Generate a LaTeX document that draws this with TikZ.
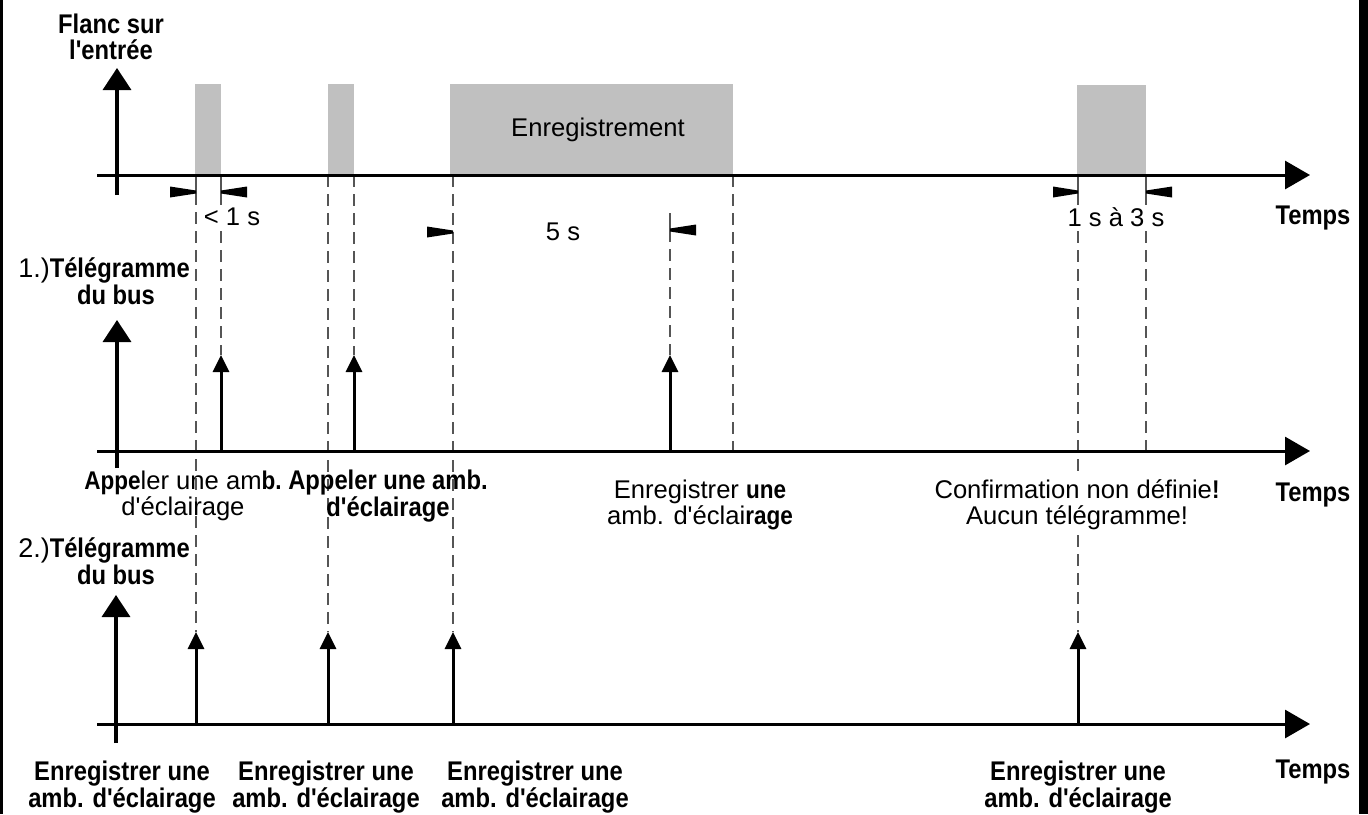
\documentclass[tikz,border=0pt]{standalone}
\usepackage{fontspec}
\setmainfont{Liberation Sans}[Ligatures=TeXOff,BoldFeatures={FakeStretch=0.88}]
\usetikzlibrary{arrows.meta}
\definecolor{pulsegray}{HTML}{C0C0C0}
\definecolor{guidegray}{HTML}{555555}
\begin{document}
\begin{tikzpicture}[x=0.5pt,y=-0.5pt,
  axisline/.style={line width=1.5pt,-{Triangle[length=12.5pt,width=14pt]}},
  vaxisline/.style={line width=1.75pt,-{Triangle[length=11pt,width=14pt]}},
  tele/.style={line width=1.5pt,-{Triangle[length=8.5pt,width=8pt]}},
  guide/.style={guidegray,line width=1pt,dash pattern=on 6pt off 3.5pt},
  guidetick/.style={guidegray,line width=1pt},
  pulsebox/.style={fill=pulsegray},
  reg/.style={font=\fontsize{12.8}{13}\selectfont,inner sep=1pt,align=center},
  bld/.style={font=\fontsize{13.5}{13.25}\selectfont\bfseries,inner sep=1pt,align=center},
  wbg/.style={fill=white},
]
\useasboundingbox (0,0) rectangle (1368,814);
\fill[white] (0,0) rectangle (1368,814);
% frame edges
\fill[black] (0,0) rectangle (3,814);
\fill[black] (1359,0) rectangle (1368,814);

% coordinates
\coordinate (a1s) at (97,175);  \coordinate (a1e) at (1310,175);
\coordinate (a2s) at (97,451);  \coordinate (a2e) at (1310,451);
\coordinate (a3s) at (97,724);  \coordinate (a3e) at (1310,724);
\coordinate (v1b) at (117,195); \coordinate (v1t) at (117,68);
\coordinate (v2b) at (117,468); \coordinate (v2t) at (117,320);
\coordinate (v3b) at (116,743); \coordinate (v3t) at (116,595);

% pulses on the input
\path[pulsebox] (195,84) rectangle (221,175);
\path[pulsebox] (328,84) rectangle (354,175);
\path[pulsebox] (450,84) rectangle (733,175);
\path[pulsebox] (1077,85) rectangle (1146,175);
\node[reg] (enr) at (598,130) {Enregistrement};

% guide lines (solid ticks + dashed)
\foreach \x/\ya/\yb/\yc in {196/175/193/632, 221/175/193/355, 1078/175/193/632, 1146/175/193/451}{
  \coordinate (ga) at (\x,\ya); \coordinate (gb) at (\x,\yb); \coordinate (gc) at (\x,\yc);
  \draw[guidetick] (ga) -- (gb);
  \draw[guide] (gb) -- (gc);
}
\foreach \x/\ya/\yb in {328/175/632, 354/175/355, 453/175/632, 733/175/451}{
  \coordinate (ga) at (\x,\ya); \coordinate (gb) at (\x,\yb);
  \draw[guide] (ga) -- (gb);
}
\coordinate (g5a) at (670,213); \coordinate (g5b) at (670,230); \coordinate (g5c) at (670,355);
\draw[guidetick] (g5a) -- (g5b);
\draw[guide] (g5b) -- (g5c);

% axes
\draw[axisline] (a1s) -- (a1e);
\draw[axisline] (a2s) -- (a2e);
\draw[axisline] (a3s) -- (a3e);
\draw[vaxisline] (v1b) -- (v1t);
\draw[vaxisline] (v2b) -- (v2t);
\draw[vaxisline] (v3b) -- (v3t);

% telegrams
\foreach \x in {221,354,670}{
  \coordinate (tb) at (\x,451); \coordinate (tt) at (\x,355);
  \draw[tele] (tb) -- (tt);
}
\foreach \x in {196,328,453,1078}{
  \coordinate (tb) at (\x,724); \coordinate (tt) at (\x,632);
  \draw[tele] (tb) -- (tt);
}

% dimension markers
\foreach \xa/\xb/\y in {170/196/192, 247/221/192, 427/453/232, 696/670/230, 1053/1078/192, 1172/1146/192}{
  \fill[black] (\xa,\y-5.5) -- (\xb,\y-1.5) -- (\xb,\y+1.5) -- (\xa,\y+5.5) -- cycle;
}

% duration labels
\node[reg,wbg] (d1) at (232,217) {< 1 s};
\node[reg] (d2) at (563,232) {5 s};
\node[reg,wbg] (d3) at (1116,217) {1 s à 3 s};

% axis titles
\node[bld] (flanc) at (111,37) {Flanc sur\\l'entrée};
\node[bld] (tel1) at (104,281) {\mdseries 1.)\bfseries Télégramme\\\hspace*{12pt}du bus};
\node[bld] (tel2) at (104,561) {\mdseries 2.)\bfseries Télégramme\\\hspace*{12pt}du bus};
\node[bld] (t1) at (1313,218) {Temps};
\node[bld] (t2) at (1313,495) {Temps};
\node[bld] (t3) at (1313,772) {Temps};

% middle labels
\node[reg] (m1) at (183,496) {{\bfseries Appe}ler une am{\bfseries b.}\\d'éclairage};
\node[bld] (m2) at (388,496) {Appeler une amb.\\d'éclairage};
\node[reg] (m3) at (700,505) {Enregistrer {\bfseries une}\\amb. d'éclai{\bfseries rage}};
\node[reg,wbg] (m4) at (1077,505) {Confirmation non définie{\bfseries !}\\Aucun télégramme!};

% bottom labels
\node[bld] (b1) at (122,787) {Enregistrer une\\amb. d'éclairage};
\node[bld] (b2) at (326,787) {Enregistrer une\\amb. d'éclairage};
\node[bld] (b3) at (535,787) {Enregistrer une\\amb. d'éclairage};
\node[bld] (b4) at (1078,787) {Enregistrer une\\amb. d'éclairage};
\end{tikzpicture}
\end{document}
